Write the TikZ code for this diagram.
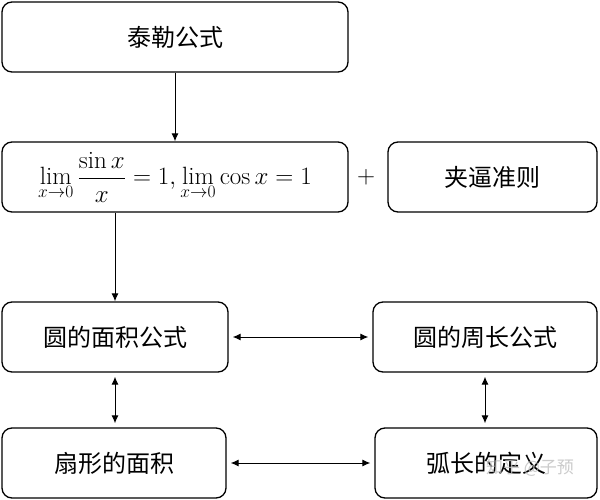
\documentclass[tikz,border=0pt]{standalone}
\usepackage{fix-cm}
\usepackage{fontspec}
\newfontfamily\cjk{Noto Sans CJK SC}
\usetikzlibrary{arrows.meta}
\begin{document}
\begin{tikzpicture}[x=1pt,y=-1pt,
  box/.style={draw, line width=1.3pt, rounded corners=10pt, minimum height=70pt, inner sep=0pt, font=\cjk\fontsize{24}{28}\selectfont},
  conn/.style={line width=1pt, -{Latex[length=8pt,width=7pt]}},
  dconn/.style={line width=1pt, {Latex[length=8pt,width=7pt]}-{Latex[length=8pt,width=7pt]}, shorten <=4pt, shorten >=4pt}]
\useasboundingbox[fill=white] (0,0) rectangle (600,500);
\node[box, minimum width=346pt] (taylor) at (175,37) {泰勒公式};
\node[box, minimum width=346pt, font=\fontsize{25}{30}\selectfont] (lim) at (175,177)
  {$\displaystyle\lim_{x\to0}\frac{\sin x}{x}=1,\lim_{x\to0}\cos x=1$};
\node[font=\fontsize{25}{30}\selectfont] (plus) at (366,177) {$+$};
\node[box, minimum width=209pt] (squeeze) at (492.5,177) {夹逼准则};
\node[box, minimum width=226pt] (area) at (115,337) {圆的面积公式};
\node[box, minimum width=224pt] (perim) at (485,337) {圆的周长公式};
\node[box, minimum width=224pt] (sector) at (114,463) {扇形的面积};
\node[box, minimum width=222pt] (arc) at (486,463) {弧长的定义};
\draw[conn] (taylor.south) -- (lim.north);
\draw[conn] (lim.south -| area.north) -- (area.north);
\draw[dconn] (area.east) -- (perim.west);
\draw[dconn] (area.south) -- (area.south |- sector.north);
\draw[dconn] (perim.south) -- (perim.south |- arc.north);
\draw[dconn] (sector.east) -- (arc.west);
\node[text=gray!50, opacity=0.8, font=\cjk\fontsize{17}{20}\selectfont] (wm) at (530,468) {知乎 @子预};
\end{tikzpicture}
\end{document}
